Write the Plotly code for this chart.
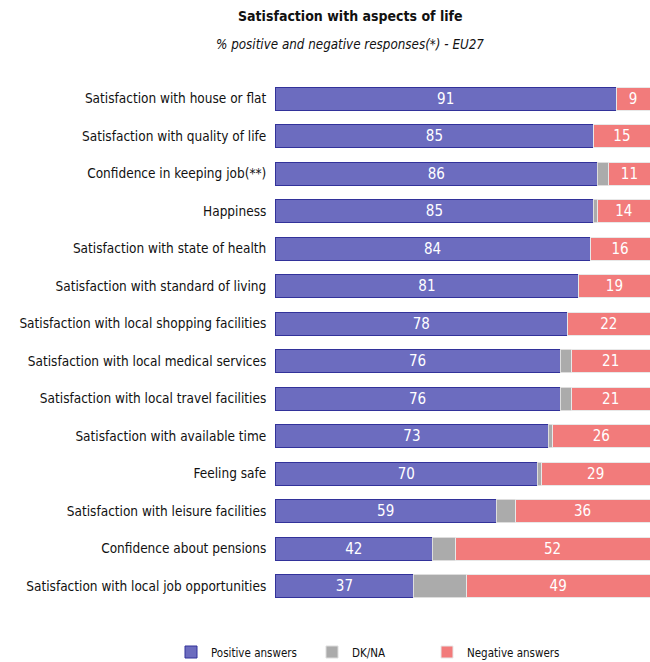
import plotly.graph_objects as go

categories = [
    "Satisfaction with house or flat",
    "Satisfaction with quality of life",
    "Confidence in keeping job(**)",
    "Happiness",
    "Satisfaction with state of health",
    "Satisfaction with standard of living",
    "Satisfaction with local shopping facilities",
    "Satisfaction with local medical services",
    "Satisfaction with local travel facilities",
    "Satisfaction with available time",
    "Feeling safe",
    "Satisfaction with leisure facilities",
    "Confidence about pensions",
    "Satisfaction with local job opportunities",
]
positive = [91, 85, 86, 85, 84, 81, 78, 76, 76, 73, 70, 59, 42, 37]
dkna = [0, 0, 3, 1, 0, 0, 0, 3, 3, 1, 1, 5, 6, 14]
negative = [9, 15, 11, 14, 16, 19, 22, 21, 21, 26, 29, 36, 52, 49]

FONT = "DejaVu Sans Condensed, Liberation Sans Narrow, Arial Narrow, sans-serif"

fig = go.Figure()
fig.add_trace(go.Bar(
    y=categories, x=positive, orientation="h", name="Positive answers", legend="legend",
    marker=dict(color="#6c6cbf", line=dict(color="#32329a", width=1)),
    text=positive, textposition="inside", insidetextanchor="middle", textangle=0,
    textfont=dict(color="white", size=15, family=FONT),
))
fig.add_trace(go.Bar(
    y=categories, x=dkna, orientation="h", name="DK/NA", legend="legend2",
    marker=dict(color="#ababab", line=dict(color="#dddddd", width=1)),
    hoverinfo="x",
))
fig.add_trace(go.Bar(
    y=categories, x=negative, orientation="h", name="Negative answers", legend="legend3",
    marker=dict(color="#f27b7b", line=dict(color="#e8e8e8", width=1)),
    text=negative, textposition="inside", insidetextanchor="middle", textangle=0,
    textfont=dict(color="white", size=15, family=FONT),
))

T, B = 80, 57
PH = 662 - T - B
LEG_Y = -(652 - (662 - B)) / PH


def leg(xpix):
    return dict(orientation="h", x=(xpix - 19 - 275) / 375, xanchor="left",
                y=LEG_Y, yanchor="middle", yref="paper",
                font=dict(size=11.5, family=FONT, color="#111111"),
                bgcolor="rgba(0,0,0,0)")


fig.update_layout(
    width=650, height=662,
    barmode="stack", bargap=0.38,
    paper_bgcolor="white", plot_bgcolor="white",
    margin=dict(l=275, r=0, t=T, b=B, autoexpand=False),
    font=dict(family=FONT, color="#111111"),
    uniformtext=dict(minsize=15, mode="show"),
    xaxis=dict(range=[0, 100], visible=False, fixedrange=True),
    yaxis=dict(autorange="reversed", showgrid=False, ticks="", automargin=False,
               tickfont=dict(size=13.5, color="#111111", family=FONT),
               ticksuffix="  ", fixedrange=True),
    showlegend=True,
    legend=leg(190),
    legend2=leg(331),
    legend3=leg(446),
)
fig.add_annotation(text="<b>Satisfaction with aspects of life</b>", xref="paper", yref="paper",
                   x=(350 - 275) / 375, y=1 + (T - 16) / PH, xanchor="center", yanchor="middle",
                   showarrow=False, font=dict(size=14, family=FONT, color="#111111"))
fig.add_annotation(text="<i>% positive and negative responses(*) - EU27</i>", xref="paper", yref="paper",
                   x=(350 - 275) / 375, y=1 + (T - 44) / PH, xanchor="center", yanchor="middle",
                   showarrow=False, font=dict(size=13.3, family=FONT, color="#111111"))

fig.write_html("out.html", config={"displayModeBar": False},
               post_script="document.body.style.margin='0';")
